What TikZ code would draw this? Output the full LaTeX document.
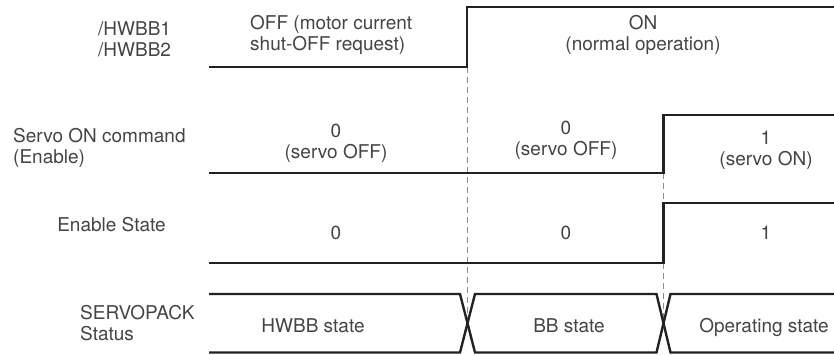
\documentclass[tikz,border=0pt]{standalone}
\usepackage{fontspec}
\setmainfont{TeX Gyre Heros}
\usetikzlibrary{positioning}
\definecolor{cwave}{HTML}{222222}
\definecolor{ctext}{HTML}{444444}
\definecolor{cguide}{HTML}{8C8C8C}
\tikzset{
  every picture/.style={line width=2.4pt},
  wave/.style={draw=cwave, line width=2.4pt, line join=miter},
  guide/.style={draw=cguide, line width=1pt, dash pattern=on 6pt off 4pt},
  sig/.style={text=ctext, align=left, inner sep=0pt, font=\fontsize{19}{21}\selectfont},
  lvl/.style={text=ctext, align=center, inner sep=0pt, font=\fontsize{19}{21}\selectfont},
}

\begin{document}
\begin{tikzpicture}[x=1pt, y=-1pt]
  \useasboundingbox (0,0) rectangle (834,354);
  % guides at the two edges
  \draw[guide] (467,67) -- (467,324);
  \draw[guide] (663.5,173) -- (663.5,324);
  % /HWBB
  \node[sig, anchor=west] (hwbb) at (97,39) {/HWBB1\\/HWBB2};
  \draw[wave] (209,67) -- (467,67) -- (467,7) -- (834,7);
  \node[sig, anchor=west] (hwbboff) at (249,35) {OFF (motor current\\shut-OFF request)};
  \node[lvl] (hwbbon) at (643,35) {ON\\(normal operation)};
  % servo ON command
  \node[sig, anchor=west] (cmd) at (12,148) {Servo ON command\\(Enable)};
  \draw[wave] (209,173) -- (663.5,173) -- (663.5,115) -- (834,115);
  \node[lvl] (cmdoffa) at (336,143) {0\\(servo OFF)};
  \node[lvl] (cmdoffb) at (566,140) {0\\(servo OFF)};
  \node[lvl] (cmdon) at (766,150) {1\\(servo ON)};
  % enable state
  \node[lvl] (ena) at (111.5,224.5) {Enable State};
  \draw[wave] (209,263) -- (663.5,263) -- (663.5,203) -- (834,203);
  \node[lvl] (enoffa) at (336,233) {0};
  \node[lvl] (enoffb) at (566,233) {0};
  \node[lvl] (enon) at (766,233) {1};
  % SERVOPACK status
  \node[sig, anchor=west] (stat) at (79,323.5) {SERVOPACK\\Status};
  \draw[wave] (209,294) -- (460,294) -- (475,352.5) -- (656.5,352.5) -- (670.5,294) -- (834,294);
  \draw[wave] (209,352.5) -- (460,352.5) -- (475,294) -- (656.5,294) -- (670.5,352.5) -- (834,352.5);
  \node[lvl, anchor=base] (sthwbb) at (313,332) {HWBB state};
  \node[lvl, anchor=base] (stbb) at (569,332) {BB state};
  \node[lvl, anchor=base] (stop) at (764,332) {Operating state};
\end{tikzpicture}
\end{document}
